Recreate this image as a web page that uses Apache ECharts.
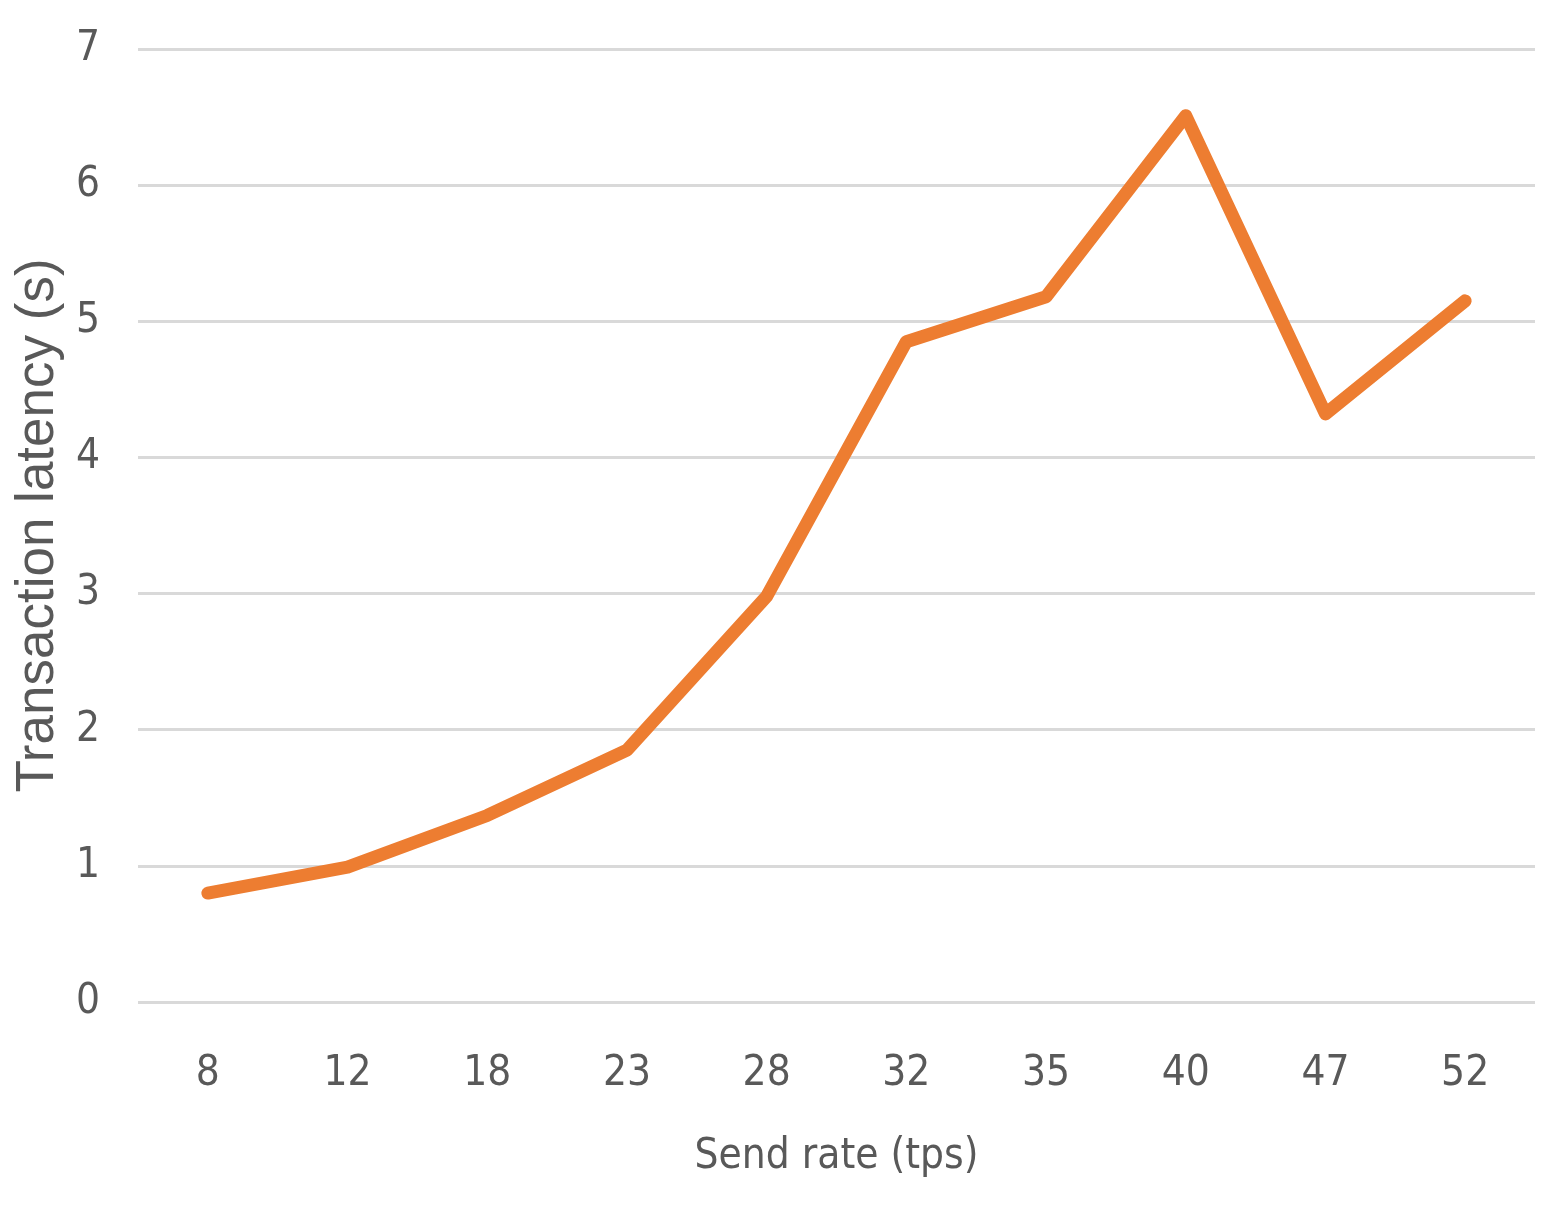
<!DOCTYPE html>
<html>
<head>
<meta charset="utf-8">
<script src="https://cdn.jsdelivr.net/npm/echarts@6/dist/echarts.min.js"></script>
<style>
html,body{margin:0;padding:0;background:#fff;}
#chart{width:1564px;height:1215px;}
</style>
</head>
<body>
<div id="chart"></div>
<script>
var categories = ['8','12','18','23','28','32','35','40','47','52'];
var latency = [0.80, 0.99, 1.37, 1.85, 2.98, 4.85, 5.18, 6.51, 4.32, 5.15];
var yTicks = [0, 1, 2, 3, 4, 5, 6, 7];

var narrow = '"Liberation Sans Narrow", "DejaVu Sans Condensed", sans-serif';
var chart = echarts.init(document.getElementById('chart'));
chart.setOption({
  animation: false,
  backgroundColor: '#ffffff',
  grid: {left: 138, right: 29, top: 49, bottom: 213, containLabel: false},
  xAxis: {
    type: 'category',
    data: categories,
    boundaryGap: true,
    name: 'Send rate (tps)',
    nameLocation: 'middle',
    nameGap: 134,
    nameTextStyle: {fontFamily: narrow, fontSize: 42, color: '#595959'},
    axisLine: {show: false},
    axisTick: {show: false},
    axisLabel: {fontFamily: narrow, fontSize: 42, color: '#595959', margin: 51}
  },
  yAxis: {
    type: 'value',
    min: yTicks[0],
    max: yTicks[yTicks.length - 1],
    interval: 1,
    name: 'Transaction latency (s)',
    nameLocation: 'middle',
    nameGap: 72,
    nameTextStyle: {fontFamily: '"Liberation Sans", Arial, sans-serif', fontSize: 53, color: '#595959'},
    axisLine: {show: false},
    axisTick: {show: false},
    axisLabel: {fontFamily: narrow, fontSize: 42, color: '#595959', margin: 38},
    splitLine: {lineStyle: {color: '#d9d9d9', width: 3}}
  },
  series: [{
    type: 'line',
    data: latency,
    showSymbol: false,
    symbol: 'none',
    lineStyle: {color: '#ED7D31', width: 13, cap: 'round', join: 'round'},
    itemStyle: {color: '#ED7D31'}
  }]
});
</script>
</body>
</html>
